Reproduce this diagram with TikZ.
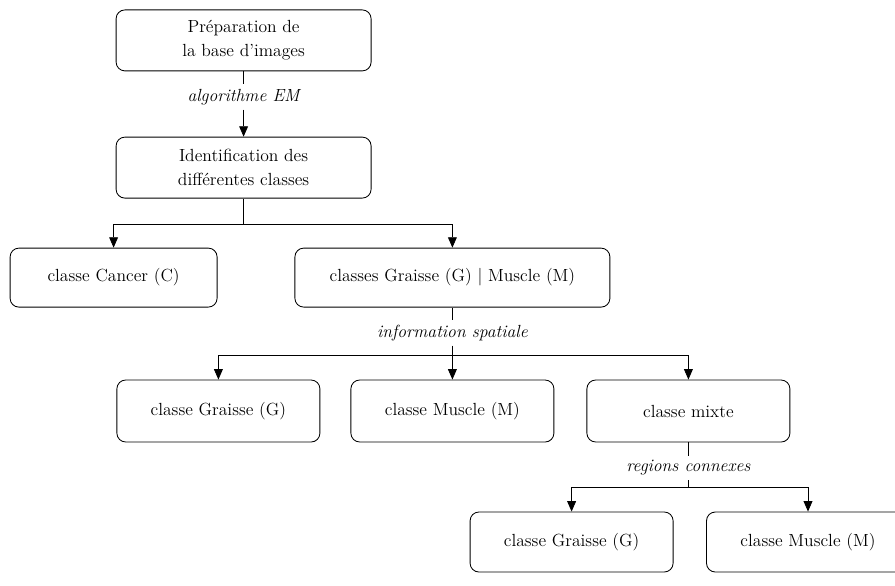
\documentclass[tikz,border=0pt]{standalone}
\usepackage{fontspec}
\usepackage{tikz}
\usetikzlibrary{positioning, arrows.meta}

\begin{document}
\begin{tikzpicture}[>={Triangle[length=2.6mm,width=2.2mm]}, line width=0.6pt,
    box/.style={draw, rounded corners=2.2mm, align=center, minimum width=5.075cm, minimum height=1.5cm, font=\fontsize{12.5}{17}\selectfont},
    lbl/.style={font=\fontsize{12.5}{17}\selectfont\itshape, inner sep=3pt}]
			\useasboundingbox (0,0) rectangle (22.375,-14.625);
			% Nodes
			\node (Prep) [box, minimum width=6.375cm, minimum height=1.525cm] at (6.09,-1.01) {Préparation de\\la base d'images};
			\node (Algo) [lbl] at (6.09,-2.425) {algorithme EM};
			\node (Ident) [box, minimum width=6.375cm, minimum height=1.525cm] at (6.09,-4.19) {Identification des\\différentes classes};
			\coordinate (Split1) at (6.09,-5.6);
			\node (Cancer) [box, minimum width=5.175cm, minimum height=1.475cm] at (2.84,-6.94) {classe Cancer (C)};
			\node (Classes) [box, minimum width=7.875cm, minimum height=1.475cm] at (11.31,-6.94) {classes Graisse (G) | Muscle (M)};
			\node (Info) [lbl] at (11.31,-8.325) {information spatiale};
			\coordinate (Split2) at (11.31,-8.875);
			\node (GraisseA) [box, minimum height=1.55cm] at (5.46,-10.275) {classe Graisse (G)};
			\node (MuscleA) [box, minimum height=1.55cm] at (11.31,-10.275) {classe Muscle (M)};
			\node (Mixte) [box, minimum height=1.55cm] at (17.21,-10.275) {classe mixte};
			\node (Regions) [lbl] at (17.21,-11.7) {regions connexes};
			\coordinate (Split3) at (17.21,-12.175);
			\node (GraisseB) [box] at (14.29,-13.55) {classe Graisse (G)};
			\node (MuscleB) [box] at (20.2,-13.55) {classe Muscle (M)};

			% Arrows
			\draw (Prep) -- (Algo);
			\draw[->] (Algo) -- (Ident);
			\draw (Ident) -- (Split1);
			\draw[->] (Split1) -| (Cancer);
			\draw[->] (Split1) -| (Classes);
			\draw (Classes) -- (Info);
			\draw (Info) -- (Split2);
			\draw[->] (Split2) -| (GraisseA);
			\draw[->] (Split2) -| (MuscleA);
			\draw[->] (Split2) -| (Mixte);
			\draw (Mixte) -- (Regions);
			\draw (Regions) -- (Split3);
			\draw[->] (Split3) -| (GraisseB);
			\draw[->] (Split3) -| (MuscleB);
		\end{tikzpicture}
\end{document}
